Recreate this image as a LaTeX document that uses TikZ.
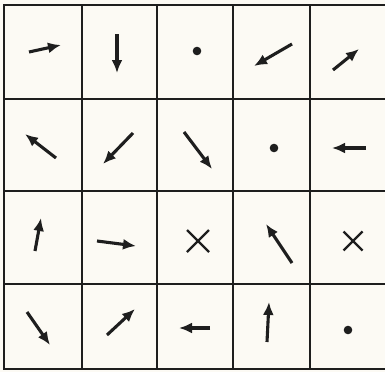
\documentclass[tikz,border=0pt]{standalone}
\usetikzlibrary{arrows.meta,calc}
\definecolor{paper}{RGB}{252,250,244}
\definecolor{ink}{RGB}{30,30,30}
\tikzset{
  gridline/.style={draw=ink,line width=1.9pt},
  vec/.style={draw=ink,line width=3.1pt,-{Latex[length=13pt,width=11pt]}},
  zerodot/.style={fill=ink},
  cross/.style={draw=ink,line width=2.3pt}
}
\begin{document}
\begin{tikzpicture}[x=1pt,y=-1pt]
\useasboundingbox[fill=paper] (0,0) rectangle (385,372);
% grid
\draw[gridline] (4,5) rectangle (387,369);
\foreach \x in {82,157,233,310} \draw[gridline] (\x,5) -- (\x,369);
\foreach \y in {99,191,284} \draw[gridline] (4,\y) -- (387,\y);
% row 1
\coordinate (a1t) at (29,52); \coordinate (a1h) at (61,45);
\draw[vec] (a1t) -- (a1h);
\coordinate (a2t) at (117,34); \coordinate (a2h) at (117,73);
\draw[vec] (a2t) -- (a2h);
\coordinate (a3) at (197,51); \fill[zerodot] (a3) circle (4.3);
\coordinate (a4t) at (292,44); \coordinate (a4h) at (254,66);
\draw[vec] (a4t) -- (a4h);
\coordinate (a5t) at (333,70); \coordinate (a5h) at (359,49);
\draw[vec] (a5t) -- (a5h);
% row 2
\coordinate (b1t) at (56,158); \coordinate (b1h) at (25,134);
\draw[vec] (b1t) -- (b1h);
\coordinate (b2t) at (133,133); \coordinate (b2h) at (103,164);
\draw[vec] (b2t) -- (b2h);
\coordinate (b3t) at (184,132); \coordinate (b3h) at (212,169);
\draw[vec] (b3t) -- (b3h);
\coordinate (b4) at (274,148); \fill[zerodot] (b4) circle (4.3);
\coordinate (b5t) at (366,148); \coordinate (b5h) at (332,148);
\draw[vec] (b5t) -- (b5h);
% row 3
\coordinate (c1t) at (35,251); \coordinate (c1h) at (41,218);
\draw[vec] (c1t) -- (c1h);
\coordinate (c2t) at (97,241); \coordinate (c2h) at (136,246);
\draw[vec] (c2t) -- (c2h);
\coordinate (c3) at (198,241);
\draw[cross] ($(c3)+(-11,-11)$) -- ($(c3)+(11,11)$) ($(c3)+(-11,11)$) -- ($(c3)+(11,-11)$);
\coordinate (c4t) at (292,263); \coordinate (c4h) at (266,224);
\draw[vec] (c4t) -- (c4h);
\coordinate (c5) at (353,241);
\draw[cross] ($(c5)+(-9.5,-9.5)$) -- ($(c5)+(9.5,9.5)$) ($(c5)+(-9.5,9.5)$) -- ($(c5)+(9.5,-9.5)$);
% row 4
\coordinate (d1t) at (27,312); \coordinate (d1h) at (50,345);
\draw[vec] (d1t) -- (d1h);
\coordinate (d2t) at (107,335); \coordinate (d2h) at (135,309);
\draw[vec] (d2t) -- (d2h);
\coordinate (d3t) at (210,328); \coordinate (d3h) at (179,328);
\draw[vec] (d3t) -- (d3h);
\coordinate (d4t) at (267,342); \coordinate (d4h) at (269,302);
\draw[vec] (d4t) -- (d4h);
\coordinate (d5) at (348,330); \fill[zerodot] (d5) circle (4.3);
\end{tikzpicture}
\end{document}
